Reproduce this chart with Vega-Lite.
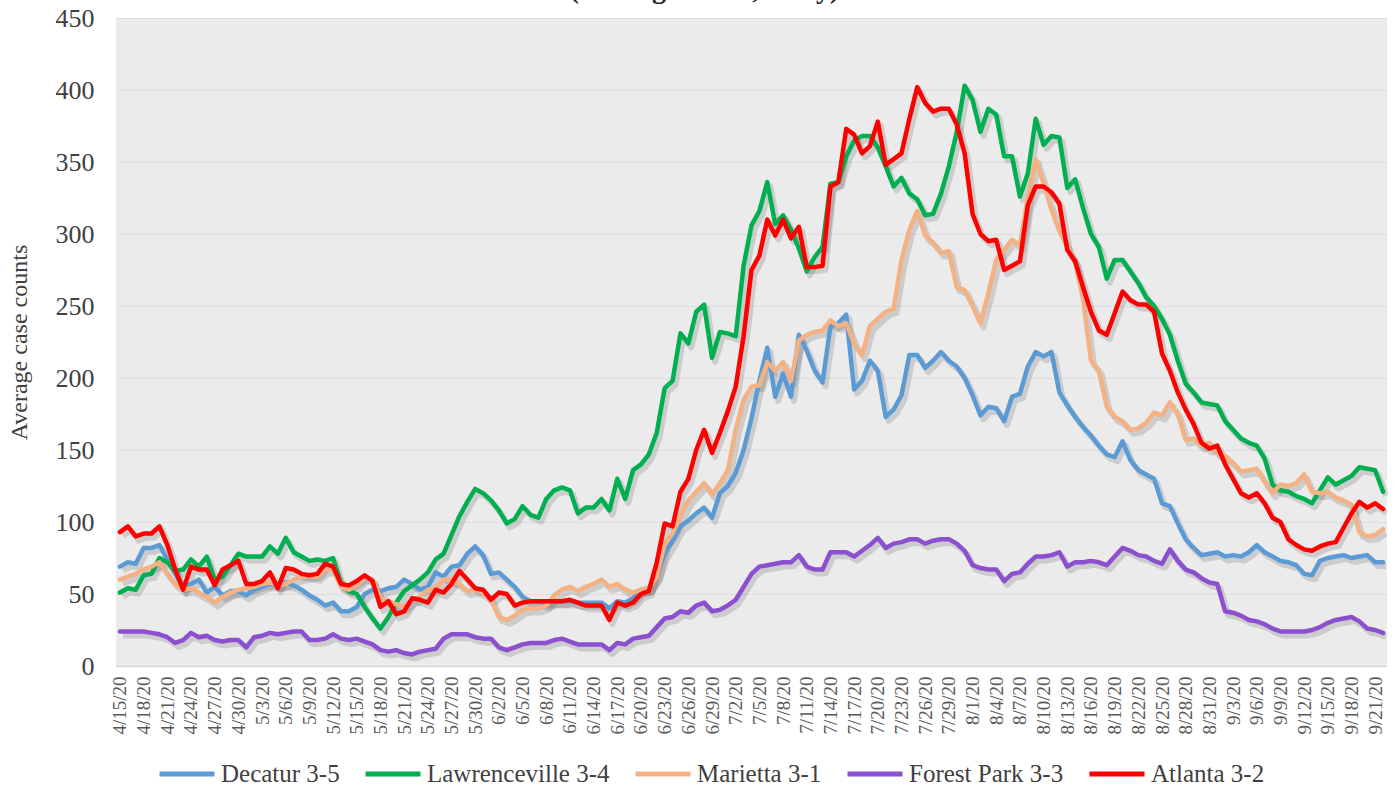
{
"$schema": "https://vega.github.io/schema/vega-lite/v6.json",
"width": 1271,
"height": 648,
"autosize": {"type": "none"},
"padding": {"left": 116, "top": 18, "right": 8, "bottom": 125},
"background": "#ffffff",
"title": {"text": "(Rolling Means, Daily)", "font": "Liberation Serif", "fontSize": 28, "fontWeight": "bold", "color": "#262626", "anchor": "middle", "baseline": "alphabetic", "offset": 6, "dy": 27, "dx": -47},
"config": {
  "view": {"fill": "#ebebeb", "stroke": null},
  "font": "Liberation Serif",
  "legend": {"orient": "none", "legendX": 41, "legendY": 726, "direction": "horizontal", "title": null, "labelFont": "Liberation Serif", "labelFontSize": 25, "labelColor": "#404040", "symbolType": "stroke", "symbolSize": 3025, "symbolStrokeWidth": 5, "labelOffset": 4, "columnPadding": 15, "labelLimit": 400}
},
"data": {"values": [
{"date":"4/15/20","Decatur 3-5":69,"Lawrenceville 3-4":51,"Marietta 3-1":60,"Forest Park 3-3":24,"Atlanta 3-2":93},
{"date":"4/16/20","Decatur 3-5":72,"Lawrenceville 3-4":54,"Marietta 3-1":62,"Forest Park 3-3":24,"Atlanta 3-2":97},
{"date":"4/17/20","Decatur 3-5":71,"Lawrenceville 3-4":53,"Marietta 3-1":64,"Forest Park 3-3":24,"Atlanta 3-2":90},
{"date":"4/18/20","Decatur 3-5":82,"Lawrenceville 3-4":63,"Marietta 3-1":67,"Forest Park 3-3":24,"Atlanta 3-2":92},
{"date":"4/19/20","Decatur 3-5":82,"Lawrenceville 3-4":64,"Marietta 3-1":69,"Forest Park 3-3":23,"Atlanta 3-2":92},
{"date":"4/20/20","Decatur 3-5":84,"Lawrenceville 3-4":75,"Marietta 3-1":72,"Forest Park 3-3":22,"Atlanta 3-2":97},
{"date":"4/21/20","Decatur 3-5":74,"Lawrenceville 3-4":72,"Marietta 3-1":64,"Forest Park 3-3":20,"Atlanta 3-2":84},
{"date":"4/22/20","Decatur 3-5":64,"Lawrenceville 3-4":66,"Marietta 3-1":57,"Forest Park 3-3":16,"Atlanta 3-2":67},
{"date":"4/23/20","Decatur 3-5":55,"Lawrenceville 3-4":67,"Marietta 3-1":53,"Forest Park 3-3":18,"Atlanta 3-2":53},
{"date":"4/24/20","Decatur 3-5":57,"Lawrenceville 3-4":74,"Marietta 3-1":54,"Forest Park 3-3":23,"Atlanta 3-2":69},
{"date":"4/25/20","Decatur 3-5":60,"Lawrenceville 3-4":69,"Marietta 3-1":51,"Forest Park 3-3":20,"Atlanta 3-2":67},
{"date":"4/26/20","Decatur 3-5":51,"Lawrenceville 3-4":76,"Marietta 3-1":48,"Forest Park 3-3":21,"Atlanta 3-2":67},
{"date":"4/27/20","Decatur 3-5":55,"Lawrenceville 3-4":60,"Marietta 3-1":44,"Forest Park 3-3":18,"Atlanta 3-2":56},
{"date":"4/28/20","Decatur 3-5":49,"Lawrenceville 3-4":62,"Marietta 3-1":48,"Forest Park 3-3":17,"Atlanta 3-2":67},
{"date":"4/29/20","Decatur 3-5":52,"Lawrenceville 3-4":70,"Marietta 3-1":51,"Forest Park 3-3":18,"Atlanta 3-2":70},
{"date":"4/30/20","Decatur 3-5":52,"Lawrenceville 3-4":78,"Marietta 3-1":53,"Forest Park 3-3":18,"Atlanta 3-2":73},
{"date":"5/1/20","Decatur 3-5":49,"Lawrenceville 3-4":76,"Marietta 3-1":54,"Forest Park 3-3":13,"Atlanta 3-2":57},
{"date":"5/2/20","Decatur 3-5":53,"Lawrenceville 3-4":76,"Marietta 3-1":55,"Forest Park 3-3":20,"Atlanta 3-2":57},
{"date":"5/3/20","Decatur 3-5":55,"Lawrenceville 3-4":76,"Marietta 3-1":57,"Forest Park 3-3":21,"Atlanta 3-2":59},
{"date":"5/4/20","Decatur 3-5":57,"Lawrenceville 3-4":83,"Marietta 3-1":58,"Forest Park 3-3":23,"Atlanta 3-2":65},
{"date":"5/5/20","Decatur 3-5":56,"Lawrenceville 3-4":78,"Marietta 3-1":56,"Forest Park 3-3":22,"Atlanta 3-2":54},
{"date":"5/6/20","Decatur 3-5":58,"Lawrenceville 3-4":89,"Marietta 3-1":57,"Forest Park 3-3":23,"Atlanta 3-2":68},
{"date":"5/7/20","Decatur 3-5":56,"Lawrenceville 3-4":79,"Marietta 3-1":60,"Forest Park 3-3":24,"Atlanta 3-2":67},
{"date":"5/8/20","Decatur 3-5":53,"Lawrenceville 3-4":76,"Marietta 3-1":62,"Forest Park 3-3":24,"Atlanta 3-2":64},
{"date":"5/9/20","Decatur 3-5":49,"Lawrenceville 3-4":73,"Marietta 3-1":63,"Forest Park 3-3":18,"Atlanta 3-2":63},
{"date":"5/10/20","Decatur 3-5":46,"Lawrenceville 3-4":74,"Marietta 3-1":62,"Forest Park 3-3":18,"Atlanta 3-2":64},
{"date":"5/11/20","Decatur 3-5":42,"Lawrenceville 3-4":73,"Marietta 3-1":67,"Forest Park 3-3":19,"Atlanta 3-2":71},
{"date":"5/12/20","Decatur 3-5":44,"Lawrenceville 3-4":75,"Marietta 3-1":67,"Forest Park 3-3":22,"Atlanta 3-2":69},
{"date":"5/13/20","Decatur 3-5":38,"Lawrenceville 3-4":57,"Marietta 3-1":55,"Forest Park 3-3":19,"Atlanta 3-2":57},
{"date":"5/14/20","Decatur 3-5":38,"Lawrenceville 3-4":52,"Marietta 3-1":53,"Forest Park 3-3":18,"Atlanta 3-2":56},
{"date":"5/15/20","Decatur 3-5":41,"Lawrenceville 3-4":50,"Marietta 3-1":56,"Forest Park 3-3":19,"Atlanta 3-2":59},
{"date":"5/16/20","Decatur 3-5":50,"Lawrenceville 3-4":41,"Marietta 3-1":62,"Forest Park 3-3":17,"Atlanta 3-2":63},
{"date":"5/17/20","Decatur 3-5":53,"Lawrenceville 3-4":33,"Marietta 3-1":60,"Forest Park 3-3":15,"Atlanta 3-2":59},
{"date":"5/18/20","Decatur 3-5":52,"Lawrenceville 3-4":26,"Marietta 3-1":47,"Forest Park 3-3":11,"Atlanta 3-2":41},
{"date":"5/19/20","Decatur 3-5":54,"Lawrenceville 3-4":34,"Marietta 3-1":45,"Forest Park 3-3":10,"Atlanta 3-2":45},
{"date":"5/20/20","Decatur 3-5":55,"Lawrenceville 3-4":44,"Marietta 3-1":43,"Forest Park 3-3":11,"Atlanta 3-2":36},
{"date":"5/21/20","Decatur 3-5":60,"Lawrenceville 3-4":52,"Marietta 3-1":41,"Forest Park 3-3":9,"Atlanta 3-2":38},
{"date":"5/22/20","Decatur 3-5":57,"Lawrenceville 3-4":56,"Marietta 3-1":46,"Forest Park 3-3":8,"Atlanta 3-2":47},
{"date":"5/23/20","Decatur 3-5":53,"Lawrenceville 3-4":60,"Marietta 3-1":48,"Forest Park 3-3":10,"Atlanta 3-2":46},
{"date":"5/24/20","Decatur 3-5":55,"Lawrenceville 3-4":65,"Marietta 3-1":53,"Forest Park 3-3":11,"Atlanta 3-2":44},
{"date":"5/25/20","Decatur 3-5":65,"Lawrenceville 3-4":74,"Marietta 3-1":54,"Forest Park 3-3":12,"Atlanta 3-2":53},
{"date":"5/26/20","Decatur 3-5":62,"Lawrenceville 3-4":78,"Marietta 3-1":60,"Forest Park 3-3":19,"Atlanta 3-2":51},
{"date":"5/27/20","Decatur 3-5":69,"Lawrenceville 3-4":91,"Marietta 3-1":60,"Forest Park 3-3":22,"Atlanta 3-2":57},
{"date":"5/28/20","Decatur 3-5":70,"Lawrenceville 3-4":104,"Marietta 3-1":57,"Forest Park 3-3":22,"Atlanta 3-2":66},
{"date":"5/29/20","Decatur 3-5":78,"Lawrenceville 3-4":114,"Marietta 3-1":52,"Forest Park 3-3":22,"Atlanta 3-2":60},
{"date":"5/30/20","Decatur 3-5":83,"Lawrenceville 3-4":123,"Marietta 3-1":53,"Forest Park 3-3":20,"Atlanta 3-2":54},
{"date":"5/31/20","Decatur 3-5":77,"Lawrenceville 3-4":120,"Marietta 3-1":51,"Forest Park 3-3":19,"Atlanta 3-2":53},
{"date":"6/1/20","Decatur 3-5":64,"Lawrenceville 3-4":115,"Marietta 3-1":46,"Forest Park 3-3":19,"Atlanta 3-2":46},
{"date":"6/2/20","Decatur 3-5":65,"Lawrenceville 3-4":108,"Marietta 3-1":34,"Forest Park 3-3":13,"Atlanta 3-2":51},
{"date":"6/3/20","Decatur 3-5":60,"Lawrenceville 3-4":99,"Marietta 3-1":32,"Forest Park 3-3":11,"Atlanta 3-2":50},
{"date":"6/4/20","Decatur 3-5":55,"Lawrenceville 3-4":102,"Marietta 3-1":35,"Forest Park 3-3":13,"Atlanta 3-2":42},
{"date":"6/5/20","Decatur 3-5":48,"Lawrenceville 3-4":111,"Marietta 3-1":39,"Forest Park 3-3":15,"Atlanta 3-2":44},
{"date":"6/6/20","Decatur 3-5":45,"Lawrenceville 3-4":105,"Marietta 3-1":40,"Forest Park 3-3":16,"Atlanta 3-2":45},
{"date":"6/7/20","Decatur 3-5":45,"Lawrenceville 3-4":103,"Marietta 3-1":40,"Forest Park 3-3":16,"Atlanta 3-2":45},
{"date":"6/8/20","Decatur 3-5":43,"Lawrenceville 3-4":116,"Marietta 3-1":42,"Forest Park 3-3":16,"Atlanta 3-2":45},
{"date":"6/9/20","Decatur 3-5":45,"Lawrenceville 3-4":122,"Marietta 3-1":49,"Forest Park 3-3":18,"Atlanta 3-2":45},
{"date":"6/10/20","Decatur 3-5":45,"Lawrenceville 3-4":124,"Marietta 3-1":53,"Forest Park 3-3":19,"Atlanta 3-2":45},
{"date":"6/11/20","Decatur 3-5":45,"Lawrenceville 3-4":122,"Marietta 3-1":55,"Forest Park 3-3":17,"Atlanta 3-2":46},
{"date":"6/12/20","Decatur 3-5":44,"Lawrenceville 3-4":106,"Marietta 3-1":52,"Forest Park 3-3":15,"Atlanta 3-2":44},
{"date":"6/13/20","Decatur 3-5":44,"Lawrenceville 3-4":110,"Marietta 3-1":55,"Forest Park 3-3":15,"Atlanta 3-2":42},
{"date":"6/14/20","Decatur 3-5":44,"Lawrenceville 3-4":110,"Marietta 3-1":57,"Forest Park 3-3":15,"Atlanta 3-2":42},
{"date":"6/15/20","Decatur 3-5":44,"Lawrenceville 3-4":116,"Marietta 3-1":60,"Forest Park 3-3":15,"Atlanta 3-2":42},
{"date":"6/16/20","Decatur 3-5":40,"Lawrenceville 3-4":108,"Marietta 3-1":55,"Forest Park 3-3":11,"Atlanta 3-2":32},
{"date":"6/17/20","Decatur 3-5":45,"Lawrenceville 3-4":130,"Marietta 3-1":57,"Forest Park 3-3":16,"Atlanta 3-2":44},
{"date":"6/18/20","Decatur 3-5":44,"Lawrenceville 3-4":116,"Marietta 3-1":53,"Forest Park 3-3":15,"Atlanta 3-2":42},
{"date":"6/19/20","Decatur 3-5":47,"Lawrenceville 3-4":136,"Marietta 3-1":51,"Forest Park 3-3":19,"Atlanta 3-2":44},
{"date":"6/20/20","Decatur 3-5":53,"Lawrenceville 3-4":140,"Marietta 3-1":53,"Forest Park 3-3":20,"Atlanta 3-2":50},
{"date":"6/21/20","Decatur 3-5":54,"Lawrenceville 3-4":147,"Marietta 3-1":54,"Forest Park 3-3":21,"Atlanta 3-2":52},
{"date":"6/22/20","Decatur 3-5":63,"Lawrenceville 3-4":162,"Marietta 3-1":62,"Forest Park 3-3":27,"Atlanta 3-2":72},
{"date":"6/23/20","Decatur 3-5":78,"Lawrenceville 3-4":193,"Marietta 3-1":85,"Forest Park 3-3":33,"Atlanta 3-2":99},
{"date":"6/24/20","Decatur 3-5":87,"Lawrenceville 3-4":198,"Marietta 3-1":92,"Forest Park 3-3":34,"Atlanta 3-2":97},
{"date":"6/25/20","Decatur 3-5":97,"Lawrenceville 3-4":231,"Marietta 3-1":104,"Forest Park 3-3":38,"Atlanta 3-2":121},
{"date":"6/26/20","Decatur 3-5":101,"Lawrenceville 3-4":224,"Marietta 3-1":115,"Forest Park 3-3":37,"Atlanta 3-2":130},
{"date":"6/27/20","Decatur 3-5":106,"Lawrenceville 3-4":246,"Marietta 3-1":121,"Forest Park 3-3":42,"Atlanta 3-2":150},
{"date":"6/28/20","Decatur 3-5":110,"Lawrenceville 3-4":251,"Marietta 3-1":127,"Forest Park 3-3":44,"Atlanta 3-2":164},
{"date":"6/29/20","Decatur 3-5":103,"Lawrenceville 3-4":214,"Marietta 3-1":119,"Forest Park 3-3":38,"Atlanta 3-2":148},
{"date":"6/30/20","Decatur 3-5":120,"Lawrenceville 3-4":232,"Marietta 3-1":127,"Forest Park 3-3":39,"Atlanta 3-2":162},
{"date":"7/1/20","Decatur 3-5":125,"Lawrenceville 3-4":231,"Marietta 3-1":136,"Forest Park 3-3":42,"Atlanta 3-2":177},
{"date":"7/2/20","Decatur 3-5":134,"Lawrenceville 3-4":229,"Marietta 3-1":164,"Forest Park 3-3":46,"Atlanta 3-2":194},
{"date":"7/3/20","Decatur 3-5":150,"Lawrenceville 3-4":278,"Marietta 3-1":185,"Forest Park 3-3":55,"Atlanta 3-2":229},
{"date":"7/4/20","Decatur 3-5":172,"Lawrenceville 3-4":306,"Marietta 3-1":194,"Forest Park 3-3":64,"Atlanta 3-2":275},
{"date":"7/5/20","Decatur 3-5":198,"Lawrenceville 3-4":316,"Marietta 3-1":195,"Forest Park 3-3":69,"Atlanta 3-2":285},
{"date":"7/6/20","Decatur 3-5":221,"Lawrenceville 3-4":336,"Marietta 3-1":211,"Forest Park 3-3":70,"Atlanta 3-2":310},
{"date":"7/7/20","Decatur 3-5":187,"Lawrenceville 3-4":307,"Marietta 3-1":205,"Forest Park 3-3":71,"Atlanta 3-2":299},
{"date":"7/8/20","Decatur 3-5":203,"Lawrenceville 3-4":313,"Marietta 3-1":211,"Forest Park 3-3":72,"Atlanta 3-2":310},
{"date":"7/9/20","Decatur 3-5":187,"Lawrenceville 3-4":303,"Marietta 3-1":198,"Forest Park 3-3":72,"Atlanta 3-2":297},
{"date":"7/10/20","Decatur 3-5":230,"Lawrenceville 3-4":290,"Marietta 3-1":226,"Forest Park 3-3":77,"Atlanta 3-2":305},
{"date":"7/11/20","Decatur 3-5":219,"Lawrenceville 3-4":274,"Marietta 3-1":230,"Forest Park 3-3":69,"Atlanta 3-2":277},
{"date":"7/12/20","Decatur 3-5":205,"Lawrenceville 3-4":284,"Marietta 3-1":232,"Forest Park 3-3":67,"Atlanta 3-2":277},
{"date":"7/13/20","Decatur 3-5":197,"Lawrenceville 3-4":291,"Marietta 3-1":233,"Forest Park 3-3":67,"Atlanta 3-2":278},
{"date":"7/14/20","Decatur 3-5":236,"Lawrenceville 3-4":335,"Marietta 3-1":240,"Forest Park 3-3":79,"Atlanta 3-2":333},
{"date":"7/15/20","Decatur 3-5":238,"Lawrenceville 3-4":336,"Marietta 3-1":236,"Forest Park 3-3":79,"Atlanta 3-2":336},
{"date":"7/16/20","Decatur 3-5":244,"Lawrenceville 3-4":354,"Marietta 3-1":238,"Forest Park 3-3":79,"Atlanta 3-2":373},
{"date":"7/17/20","Decatur 3-5":192,"Lawrenceville 3-4":365,"Marietta 3-1":224,"Forest Park 3-3":76,"Atlanta 3-2":369},
{"date":"7/18/20","Decatur 3-5":198,"Lawrenceville 3-4":368,"Marietta 3-1":216,"Forest Park 3-3":80,"Atlanta 3-2":356},
{"date":"7/19/20","Decatur 3-5":212,"Lawrenceville 3-4":368,"Marietta 3-1":236,"Forest Park 3-3":84,"Atlanta 3-2":361},
{"date":"7/20/20","Decatur 3-5":205,"Lawrenceville 3-4":360,"Marietta 3-1":241,"Forest Park 3-3":89,"Atlanta 3-2":378},
{"date":"7/21/20","Decatur 3-5":173,"Lawrenceville 3-4":347,"Marietta 3-1":246,"Forest Park 3-3":82,"Atlanta 3-2":348},
{"date":"7/22/20","Decatur 3-5":178,"Lawrenceville 3-4":333,"Marietta 3-1":248,"Forest Park 3-3":85,"Atlanta 3-2":352},
{"date":"7/23/20","Decatur 3-5":188,"Lawrenceville 3-4":339,"Marietta 3-1":282,"Forest Park 3-3":86,"Atlanta 3-2":356},
{"date":"7/24/20","Decatur 3-5":216,"Lawrenceville 3-4":328,"Marietta 3-1":303,"Forest Park 3-3":88,"Atlanta 3-2":380},
{"date":"7/25/20","Decatur 3-5":216,"Lawrenceville 3-4":324,"Marietta 3-1":316,"Forest Park 3-3":88,"Atlanta 3-2":402},
{"date":"7/26/20","Decatur 3-5":207,"Lawrenceville 3-4":313,"Marietta 3-1":299,"Forest Park 3-3":85,"Atlanta 3-2":391},
{"date":"7/27/20","Decatur 3-5":212,"Lawrenceville 3-4":314,"Marietta 3-1":294,"Forest Park 3-3":87,"Atlanta 3-2":385},
{"date":"7/28/20","Decatur 3-5":218,"Lawrenceville 3-4":328,"Marietta 3-1":287,"Forest Park 3-3":88,"Atlanta 3-2":387},
{"date":"7/29/20","Decatur 3-5":212,"Lawrenceville 3-4":347,"Marietta 3-1":288,"Forest Park 3-3":88,"Atlanta 3-2":387},
{"date":"7/30/20","Decatur 3-5":208,"Lawrenceville 3-4":371,"Marietta 3-1":263,"Forest Park 3-3":85,"Atlanta 3-2":376},
{"date":"7/31/20","Decatur 3-5":200,"Lawrenceville 3-4":403,"Marietta 3-1":261,"Forest Park 3-3":80,"Atlanta 3-2":356},
{"date":"8/1/20","Decatur 3-5":188,"Lawrenceville 3-4":393,"Marietta 3-1":250,"Forest Park 3-3":70,"Atlanta 3-2":314},
{"date":"8/2/20","Decatur 3-5":174,"Lawrenceville 3-4":371,"Marietta 3-1":238,"Forest Park 3-3":68,"Atlanta 3-2":300},
{"date":"8/3/20","Decatur 3-5":180,"Lawrenceville 3-4":387,"Marietta 3-1":259,"Forest Park 3-3":67,"Atlanta 3-2":295},
{"date":"8/4/20","Decatur 3-5":179,"Lawrenceville 3-4":383,"Marietta 3-1":282,"Forest Park 3-3":67,"Atlanta 3-2":296},
{"date":"8/5/20","Decatur 3-5":170,"Lawrenceville 3-4":354,"Marietta 3-1":289,"Forest Park 3-3":59,"Atlanta 3-2":275},
{"date":"8/6/20","Decatur 3-5":187,"Lawrenceville 3-4":354,"Marietta 3-1":296,"Forest Park 3-3":64,"Atlanta 3-2":278},
{"date":"8/7/20","Decatur 3-5":189,"Lawrenceville 3-4":326,"Marietta 3-1":292,"Forest Park 3-3":65,"Atlanta 3-2":281},
{"date":"8/8/20","Decatur 3-5":208,"Lawrenceville 3-4":342,"Marietta 3-1":325,"Forest Park 3-3":71,"Atlanta 3-2":320},
{"date":"8/9/20","Decatur 3-5":218,"Lawrenceville 3-4":380,"Marietta 3-1":352,"Forest Park 3-3":76,"Atlanta 3-2":333},
{"date":"8/10/20","Decatur 3-5":215,"Lawrenceville 3-4":362,"Marietta 3-1":335,"Forest Park 3-3":76,"Atlanta 3-2":333},
{"date":"8/11/20","Decatur 3-5":218,"Lawrenceville 3-4":368,"Marietta 3-1":317,"Forest Park 3-3":77,"Atlanta 3-2":329},
{"date":"8/12/20","Decatur 3-5":190,"Lawrenceville 3-4":367,"Marietta 3-1":302,"Forest Park 3-3":79,"Atlanta 3-2":321},
{"date":"8/13/20","Decatur 3-5":181,"Lawrenceville 3-4":332,"Marietta 3-1":291,"Forest Park 3-3":69,"Atlanta 3-2":289},
{"date":"8/14/20","Decatur 3-5":173,"Lawrenceville 3-4":338,"Marietta 3-1":280,"Forest Park 3-3":72,"Atlanta 3-2":281},
{"date":"8/15/20","Decatur 3-5":166,"Lawrenceville 3-4":318,"Marietta 3-1":255,"Forest Park 3-3":72,"Atlanta 3-2":263},
{"date":"8/16/20","Decatur 3-5":160,"Lawrenceville 3-4":300,"Marietta 3-1":212,"Forest Park 3-3":73,"Atlanta 3-2":246},
{"date":"8/17/20","Decatur 3-5":153,"Lawrenceville 3-4":291,"Marietta 3-1":205,"Forest Park 3-3":72,"Atlanta 3-2":233},
{"date":"8/18/20","Decatur 3-5":147,"Lawrenceville 3-4":269,"Marietta 3-1":180,"Forest Park 3-3":70,"Atlanta 3-2":230},
{"date":"8/19/20","Decatur 3-5":145,"Lawrenceville 3-4":282,"Marietta 3-1":173,"Forest Park 3-3":76,"Atlanta 3-2":245},
{"date":"8/20/20","Decatur 3-5":156,"Lawrenceville 3-4":282,"Marietta 3-1":170,"Forest Park 3-3":82,"Atlanta 3-2":260},
{"date":"8/21/20","Decatur 3-5":143,"Lawrenceville 3-4":274,"Marietta 3-1":164,"Forest Park 3-3":80,"Atlanta 3-2":254},
{"date":"8/22/20","Decatur 3-5":136,"Lawrenceville 3-4":266,"Marietta 3-1":165,"Forest Park 3-3":77,"Atlanta 3-2":251},
{"date":"8/23/20","Decatur 3-5":133,"Lawrenceville 3-4":256,"Marietta 3-1":169,"Forest Park 3-3":76,"Atlanta 3-2":251},
{"date":"8/24/20","Decatur 3-5":130,"Lawrenceville 3-4":250,"Marietta 3-1":176,"Forest Park 3-3":73,"Atlanta 3-2":246},
{"date":"8/25/20","Decatur 3-5":113,"Lawrenceville 3-4":241,"Marietta 3-1":174,"Forest Park 3-3":71,"Atlanta 3-2":217},
{"date":"8/26/20","Decatur 3-5":111,"Lawrenceville 3-4":230,"Marietta 3-1":183,"Forest Park 3-3":81,"Atlanta 3-2":205},
{"date":"8/27/20","Decatur 3-5":99,"Lawrenceville 3-4":212,"Marietta 3-1":175,"Forest Park 3-3":73,"Atlanta 3-2":190},
{"date":"8/28/20","Decatur 3-5":88,"Lawrenceville 3-4":196,"Marietta 3-1":157,"Forest Park 3-3":67,"Atlanta 3-2":178},
{"date":"8/29/20","Decatur 3-5":82,"Lawrenceville 3-4":190,"Marietta 3-1":158,"Forest Park 3-3":65,"Atlanta 3-2":168},
{"date":"8/30/20","Decatur 3-5":77,"Lawrenceville 3-4":183,"Marietta 3-1":153,"Forest Park 3-3":61,"Atlanta 3-2":155},
{"date":"8/31/20","Decatur 3-5":78,"Lawrenceville 3-4":182,"Marietta 3-1":155,"Forest Park 3-3":58,"Atlanta 3-2":151},
{"date":"9/1/20","Decatur 3-5":79,"Lawrenceville 3-4":181,"Marietta 3-1":148,"Forest Park 3-3":57,"Atlanta 3-2":153},
{"date":"9/2/20","Decatur 3-5":76,"Lawrenceville 3-4":170,"Marietta 3-1":146,"Forest Park 3-3":38,"Atlanta 3-2":140},
{"date":"9/3/20","Decatur 3-5":77,"Lawrenceville 3-4":164,"Marietta 3-1":141,"Forest Park 3-3":37,"Atlanta 3-2":130},
{"date":"9/4/20","Decatur 3-5":76,"Lawrenceville 3-4":158,"Marietta 3-1":135,"Forest Park 3-3":35,"Atlanta 3-2":120},
{"date":"9/5/20","Decatur 3-5":79,"Lawrenceville 3-4":155,"Marietta 3-1":136,"Forest Park 3-3":32,"Atlanta 3-2":117},
{"date":"9/6/20","Decatur 3-5":84,"Lawrenceville 3-4":153,"Marietta 3-1":137,"Forest Park 3-3":31,"Atlanta 3-2":120},
{"date":"9/7/20","Decatur 3-5":79,"Lawrenceville 3-4":144,"Marietta 3-1":128,"Forest Park 3-3":29,"Atlanta 3-2":113},
{"date":"9/8/20","Decatur 3-5":76,"Lawrenceville 3-4":126,"Marietta 3-1":120,"Forest Park 3-3":26,"Atlanta 3-2":103},
{"date":"9/9/20","Decatur 3-5":73,"Lawrenceville 3-4":122,"Marietta 3-1":126,"Forest Park 3-3":24,"Atlanta 3-2":100},
{"date":"9/10/20","Decatur 3-5":72,"Lawrenceville 3-4":121,"Marietta 3-1":125,"Forest Park 3-3":24,"Atlanta 3-2":88},
{"date":"9/11/20","Decatur 3-5":70,"Lawrenceville 3-4":118,"Marietta 3-1":127,"Forest Park 3-3":24,"Atlanta 3-2":84},
{"date":"9/12/20","Decatur 3-5":64,"Lawrenceville 3-4":116,"Marietta 3-1":133,"Forest Park 3-3":24,"Atlanta 3-2":81},
{"date":"9/13/20","Decatur 3-5":63,"Lawrenceville 3-4":113,"Marietta 3-1":121,"Forest Park 3-3":25,"Atlanta 3-2":80},
{"date":"9/14/20","Decatur 3-5":73,"Lawrenceville 3-4":122,"Marietta 3-1":120,"Forest Park 3-3":27,"Atlanta 3-2":83},
{"date":"9/15/20","Decatur 3-5":75,"Lawrenceville 3-4":131,"Marietta 3-1":121,"Forest Park 3-3":30,"Atlanta 3-2":85},
{"date":"9/16/20","Decatur 3-5":76,"Lawrenceville 3-4":126,"Marietta 3-1":117,"Forest Park 3-3":32,"Atlanta 3-2":86},
{"date":"9/17/20","Decatur 3-5":77,"Lawrenceville 3-4":129,"Marietta 3-1":115,"Forest Park 3-3":33,"Atlanta 3-2":96},
{"date":"9/18/20","Decatur 3-5":75,"Lawrenceville 3-4":132,"Marietta 3-1":112,"Forest Park 3-3":34,"Atlanta 3-2":106},
{"date":"9/19/20","Decatur 3-5":76,"Lawrenceville 3-4":138,"Marietta 3-1":93,"Forest Park 3-3":31,"Atlanta 3-2":114},
{"date":"9/20/20","Decatur 3-5":77,"Lawrenceville 3-4":137,"Marietta 3-1":90,"Forest Park 3-3":26,"Atlanta 3-2":110},
{"date":"9/21/20","Decatur 3-5":72,"Lawrenceville 3-4":136,"Marietta 3-1":91,"Forest Park 3-3":25,"Atlanta 3-2":113},
{"date":"9/22/20","Decatur 3-5":72,"Lawrenceville 3-4":121,"Marietta 3-1":95,"Forest Park 3-3":23,"Atlanta 3-2":109}
]},
"transform": [{"fold": ["Decatur 3-5", "Lawrenceville 3-4", "Marietta 3-1", "Forest Park 3-3", "Atlanta 3-2"], "as": ["series", "count"]}],
"encoding": {
  "x": {"field": "date", "type": "ordinal", "sort": null, "scale": {"type": "point", "padding": 0.5},
    "axis": {"title": null, "values": ["4/15/20","4/18/20","4/21/20","4/24/20","4/27/20","4/30/20","5/3/20","5/6/20","5/9/20","5/12/20","5/15/20","5/18/20","5/21/20","5/24/20","5/27/20","5/30/20","6/2/20","6/5/20","6/8/20","6/11/20","6/14/20","6/17/20","6/20/20","6/23/20","6/26/20","6/29/20","7/2/20","7/5/20","7/8/20","7/11/20","7/14/20","7/17/20","7/20/20","7/23/20","7/26/20","7/29/20","8/1/20","8/4/20","8/7/20","8/10/20","8/13/20","8/16/20","8/19/20","8/22/20","8/25/20","8/28/20","8/31/20","9/3/20","9/6/20","9/9/20","9/12/20","9/15/20","9/18/20","9/21/20"],
      "labelAngle": -90, "labelFont": "Liberation Serif", "labelFontSize": 19, "labelColor": "#595959", "labelPadding": 10, "labelOverlap": false, "ticks": false, "tickSize": 0, "grid": false, "domainColor": "#d9d9d9", "domainWidth": 1.5}},
  "y": {"field": "count", "type": "quantitative", "scale": {"domain": [0, 450], "nice": false},
    "axis": {"title": "Average case counts", "titleFont": "Liberation Serif", "titleFontSize": 24, "titleFontWeight": "normal", "titleColor": "#404040", "titlePadding": 24,
      "values": [0, 50, 100, 150, 200, 250, 300, 350, 400, 450], "labelFont": "Liberation Serif", "labelFontSize": 26, "labelColor": "#404040", "labelPadding": 22,
      "ticks": false, "tickSize": 0, "domain": false, "grid": true, "gridColor": "#dedede", "gridWidth": 1}}
},
"layer": [
  {"mark": {"type": "line", "color": "#000000", "opacity": 0.13, "strokeWidth": 6, "xOffset": 3, "yOffset": 4, "strokeJoin": "round"},
   "encoding": {"detail": {"field": "series"}}},
  {"mark": {"type": "line", "strokeWidth": 4.5, "strokeJoin": "round", "strokeCap": "round"},
   "encoding": {"color": {"field": "series", "type": "nominal", "sort": null,
      "scale": {"domain": ["Decatur 3-5", "Lawrenceville 3-4", "Marietta 3-1", "Forest Park 3-3", "Atlanta 3-2"], "range": ["#5B9BD5", "#00B050", "#F4B183", "#8B4FCF", "#FF0000"]}}}}
]
}
